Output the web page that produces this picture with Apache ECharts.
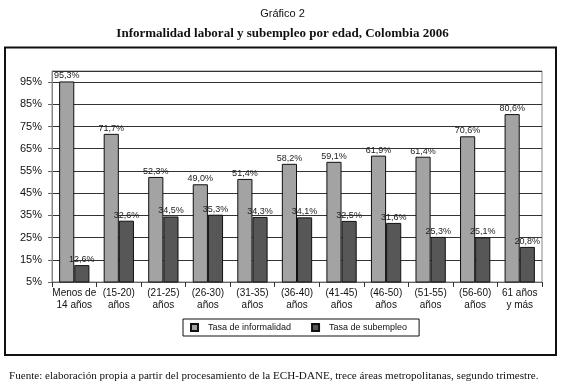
<!DOCTYPE html>
<html>
<head>
<meta charset="utf-8">
<script src="https://cdn.jsdelivr.net/npm/echarts@6/dist/echarts.min.js"></script>
<style>
  html, body { margin: 0; padding: 0; background: #fff; }
  #chart { width: 565px; height: 382px; }
</style>
</head>
<body>
<div id="chart"></div>
<script>
const categories = [
  'Menos de\n14 años', '(15-20)\naños', '(21-25)\naños', '(26-30)\naños',
  '(31-35)\naños', '(36-40)\naños', '(41-45)\naños', '(46-50)\naños',
  '(51-55)\naños', '(56-60)\naños', '61 años\ny más'
]
const informalidad = [95.3, 71.7, 52.3, 49.0, 51.4, 58.2, 59.1, 61.9, 61.4, 70.6, 80.6]
const subempleo = [12.6, 32.6, 34.5, 35.3, 34.3, 34.1, 32.5, 31.6, 25.3, 25.1, 20.8]

const chart = echarts.init(document.getElementById('chart'))

function fmt(v) {
  return v.toFixed(1).replace('.', ',') + '%'
}

const sans = 'Arial, Liberation Sans'

const labelStyle = {
  show: true,
  position: 'top',
  distance: 1,
  fontFamily: sans,
  fontSize: 9,
  color: '#222',
  formatter: p => fmt(p.value)
}

chart.setOption({
  animation: false,
  title: [
    {
      text: 'Gráfico 2',
      left: 'center',
      top: 3,
      textStyle: { fontFamily: sans, fontSize: 11, fontWeight: 'normal', color: '#111' }
    },
    {
      text: 'Informalidad laboral y subempleo por edad, Colombia 2006',
      left: 'center',
      top: 22,
      textStyle: { fontFamily: 'Liberation Serif, Times New Roman', fontSize: 13, fontWeight: 'bold', color: '#111' }
    },
    {
      text: 'Fuente: elaboración propia a partir del procesamiento de la ECH-DANE, trece áreas metropolitanas, segundo trimestre.',
      left: 4,
      top: 366,
      textStyle: { fontFamily: 'Liberation Serif, Times New Roman', fontSize: 11.1, fontWeight: 'normal', color: '#111' }
    }
  ],
  graphic: [
    {
      type: 'rect',
      shape: { x: 5, y: 47.5, width: 551, height: 307.5 },
      style: { fill: 'none', stroke: '#111', lineWidth: 2 },
      silent: true
    }
  ],
  legend: {
    top: 319,
    left: 183,
    icon: 'rect',
    itemWidth: 7,
    itemHeight: 7,
    itemGap: 20,
    padding: [4, 12, 4, 7],
    borderColor: '#111',
    borderWidth: 1,
    textStyle: { fontFamily: sans, fontSize: 9, color: '#111', padding: [0, 0, 0, 5] },
    data: ['Tasa de informalidad', 'Tasa de subempleo']
  },
  grid: {
    left: 52,
    right: 23,
    top: 71,
    bottom: 100,
    show: true,
    borderColor: '#888',
    borderWidth: 1
  },
  xAxis: {
    type: 'category',
    data: categories,
    axisLine: { lineStyle: { color: '#666' } },
    axisTick: { show: true, length: 5, lineStyle: { color: '#333' } },
    axisLabel: {
      color: '#111',
      fontFamily: sans,
      fontSize: 10,
      lineHeight: 12,
      interval: 0,
      margin: 5
    }
  },
  yAxis: {
    type: 'value',
    min: 5,
    max: 100,
    interval: 10,
    axisLine: { show: true, lineStyle: { color: '#888' } },
    axisTick: { show: true, length: 4, lineStyle: { color: '#666' } },
    splitLine: { lineStyle: { color: '#333' } },
    axisLabel: {
      color: '#111',
      fontFamily: sans,
      fontSize: 11,
      margin: 10,
      showMaxLabel: false,
      formatter: v => v + '%'
    }
  },
  series: [
    {
      name: 'Tasa de informalidad',
      type: 'bar',
      data: informalidad,
      barGap: '0%',
      barCategoryGap: '32%',
      itemStyle: { color: '#a3a3a3', borderColor: '#111', borderWidth: 1 },
      label: labelStyle
    },
    {
      name: 'Tasa de subempleo',
      type: 'bar',
      data: subempleo,
      itemStyle: { color: '#575757', borderColor: '#111', borderWidth: 1 },
      label: labelStyle
    }
  ]
})
</script>
</body>
</html>
